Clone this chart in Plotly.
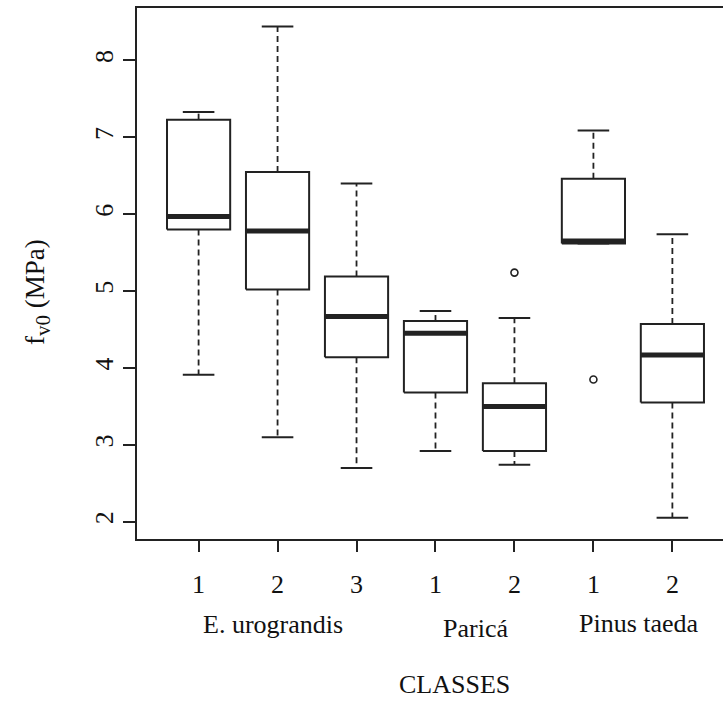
import plotly.graph_objects as go

# Shear strength (f_v0, MPa) summary per species / class
groups = ["E. urograndis", "Paricá", "Pinus taeda"]
classes = ["1", "2", "3", "1", "2", "1", "2"]
whisker_low = [3.91, 3.10, 2.70, 2.92, 2.74, 5.62, 2.05]
q1 = [5.80, 5.02, 4.14, 3.68, 2.92, 5.62, 3.55]
median = [5.97, 5.78, 4.67, 4.45, 3.50, 5.65, 4.17]
q3 = [7.23, 6.55, 5.19, 4.61, 3.80, 6.46, 4.57]
whisker_high = [7.33, 8.44, 6.40, 4.74, 4.65, 7.09, 5.74]
outlier_pos = [5, 6]
outlier_val = [5.24, 3.85]
y_ticks = [2, 3, 4, 5, 6, 7, 8]

INK = "#222222"
TEXT = "#111111"
FONT = "Liberation Serif"
BOX_W = 0.8
CAP_W = 0.4

# plot-area geometry (pixels) used for text placement
W, H = 723, 702
L, R, T, B = 137, 0, 8, 163


def px_x(p):
    return (p - L) / (W - L - R)


def px_y(p):
    return (H - B - p) / (H - T - B)


fig = go.Figure()
positions = list(range(1, len(classes) + 1))
for i, x in enumerate(positions):
    h = BOX_W / 2
    c = CAP_W / 2
    # box
    fig.add_trace(go.Scatter(
        x=[x - h, x + h, x + h, x - h, x - h],
        y=[q1[i], q1[i], q3[i], q3[i], q1[i]],
        mode="lines", line=dict(color=INK, width=2),
        hoverinfo="skip", showlegend=False))
    # dashed whiskers
    fig.add_trace(go.Scatter(
        x=[x, x, None, x, x],
        y=[q3[i], whisker_high[i], None, q1[i], whisker_low[i]],
        mode="lines", line=dict(color=INK, width=1.8, dash="6px,4px"),
        hoverinfo="skip", showlegend=False))
    # staples
    fig.add_trace(go.Scatter(
        x=[x - c, x + c, None, x - c, x + c],
        y=[whisker_high[i], whisker_high[i], None, whisker_low[i], whisker_low[i]],
        mode="lines", line=dict(color=INK, width=2),
        hoverinfo="skip", showlegend=False))
    # median
    fig.add_trace(go.Scatter(
        x=[x - h, x + h], y=[median[i], median[i]],
        mode="lines", line=dict(color=INK, width=5),
        hoverinfo="skip", showlegend=False))

# outliers
fig.add_trace(go.Scatter(
    x=outlier_pos, y=outlier_val, mode="markers",
    marker=dict(symbol="circle-open", size=7, color=INK, line=dict(width=1.6)),
    hoverinfo="skip", showlegend=False))

annotations = []
# species labels under the class ticks
group_text_px = {"E. urograndis": (273, 624), "Paricá": (475.5, 628), "Pinus taeda": (639, 623)}
for g in groups:
    gx, gy = group_text_px[g]
    annotations.append(dict(
        text=g, xref="paper", yref="paper", x=px_x(gx), y=px_y(gy),
        xanchor="center", yanchor="middle", showarrow=False,
        font=dict(family=FONT, size=26, color=TEXT)))
annotations.append(dict(
    text="CLASSES", xref="paper", yref="paper", x=px_x(454.7), y=px_y(684),
    xanchor="center", yanchor="middle", showarrow=False,
    font=dict(family=FONT, size=26, color=TEXT)))
annotations.append(dict(
    text="f<sub><span style='font-size:21px'>v0</span></sub> (MPa)",
    xref="paper", yref="paper", x=px_x(37), y=px_y(292),
    xanchor="center", yanchor="middle", textangle=-90, showarrow=False,
    font=dict(family=FONT, size=27, color=TEXT)))

fig.update_layout(
    width=W, height=H,
    margin=dict(l=L, r=R, t=T, b=B, pad=0),
    paper_bgcolor="white", plot_bgcolor="white",
    annotations=annotations,
    xaxis=dict(
        range=[0.22, 7.641], tickvals=positions, ticktext=classes,
        ticks="outside", ticklen=11, tickwidth=1.6, tickcolor=INK,
        ticklabelstandoff=10,
        showline=True, mirror=True, linecolor=INK, linewidth=1.6,
        showgrid=False, zeroline=False,
        tickfont=dict(family=FONT, size=26, color=TEXT)),
    yaxis=dict(
        range=[1.775, 8.682], tickvals=y_ticks, ticktext=[str(v) for v in y_ticks],
        tickangle=-90, ticks="outside", ticklen=12, tickwidth=1.6, tickcolor=INK,
        showline=True, mirror=False, linecolor=INK, linewidth=1.6,
        showgrid=False, zeroline=False,
        tickfont=dict(family=FONT, size=26, color=TEXT)),
)

fig.write_html("out.html")
